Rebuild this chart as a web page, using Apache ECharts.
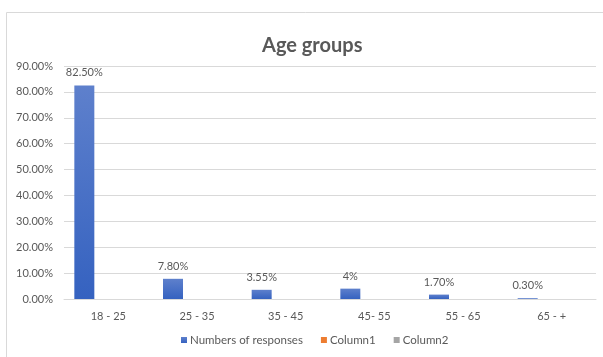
<!DOCTYPE html>
<html><head><meta charset="utf-8">
<script src="https://cdn.jsdelivr.net/npm/echarts@6/dist/echarts.min.js"></script>
<style>html,body{margin:0;padding:0;background:#fff}#c{width:603px;height:357px}</style>
</head><body><div id="c"></div>
<script>
const categories = ['18 - 25', '25 - 35', '35 - 45', '45- 55', '55 - 65', '65 - +'];
const responses = [0.825, 0.078, 0.0355, 0.04, 0.017, 0.003];
const responseLabels = ['82.50%', '7.80%', '3.55%', '4%', '1.70%', '0.30%'];
const column1 = [null, null, null, null, null, null];
const column2 = [null, null, null, null, null, null];
const seriesNames = ['Numbers of responses', 'Column1', 'Column2'];

const FONT = 'Lato, "Open Sans", sans-serif';
const chart = echarts.init(document.getElementById('c'));
chart.setOption({
  animation: false,
  title: {
    text: 'Age groups', left: 257, top: 31,
    textStyle: {fontFamily: FONT, fontSize: 20, fontWeight: 'bold', color: '#595959'}
  },
  graphic: [{type: 'rect', shape: {x: 6.5, y: 12.5, width: 700, height: 400},
    style: {fill: 'none', stroke: '#d9d9d9', lineWidth: 1}, silent: true}],
  legend: {
    bottom: 6, left: 176, itemWidth: 6, itemHeight: 6, itemGap: 18,
    icon: 'rect',
    textStyle: {fontFamily: FONT, fontSize: 11.5, color: '#595959', padding: [0,0,0,-2]},
    data: seriesNames
  },
  grid: {left: 64, right: 7, top: 66, bottom: 58},
  xAxis: {
    type: 'category', data: categories,
    axisLine: {lineStyle: {color: '#d9d9d9'}},
    axisTick: {show: false},
    axisLabel: {fontFamily: FONT, fontSize: 11, color: '#595959', margin: 12}
  },
  yAxis: {
    type: 'value', min: 0, max: 0.9, interval: 0.1,
    axisLine: {show: false}, axisTick: {show: false},
    splitLine: {lineStyle: {color: '#d9d9d9'}},
    axisLabel: {fontFamily: FONT, fontSize: 11, color: '#595959', margin: 11,
      formatter: v => (v * 100).toFixed(2) + '%'}
  },
  series: [
    {name: seriesNames[0], type: 'bar', data: responses, barWidth: 20, barGap: '20%',
      itemStyle: {color: new echarts.graphic.LinearGradient(0,0,0,1,[{offset:0,color:'#5e80cc'},{offset:1,color:'#3562c0'}])},
      label: {show: true, position: 'top', distance: 7, fontFamily: FONT, fontSize: 11, color: '#595959',
        formatter: p => responseLabels[p.dataIndex]}},
    {name: seriesNames[1], type: 'bar', data: column1, barWidth: 20, barGap: '20%', itemStyle: {color: '#ED7D31'}},
    {name: seriesNames[2], type: 'bar', data: column2, barWidth: 20, barGap: '20%', itemStyle: {color: '#A5A5A5'}}
  ]
});
</script></body></html>
